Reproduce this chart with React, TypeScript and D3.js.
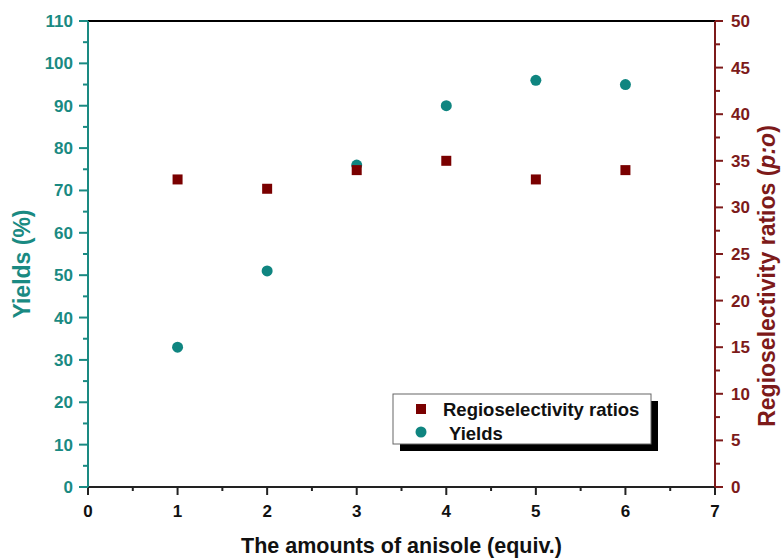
import React from "react";
import * as d3 from "d3";

const equiv = [1, 2, 3, 4, 5, 6];
const yields = [33, 51, 76, 90, 96, 95];
const ratios = [33, 32, 34, 35, 33, 34];
const xTicks = [0, 1, 2, 3, 4, 5, 6, 7];
const yLeftTicks = [0, 10, 20, 30, 40, 50, 60, 70, 80, 90, 100, 110];
const yRightTicks = [0, 5, 10, 15, 20, 25, 30, 35, 40, 45, 50];

const W = 782, H = 558;
const M = { left: 88, right: 715, top: 21, bottom: 487 };
const TEAL = "#1a8a82";
const TEAL_PT = "#0f8580";
const RED = "#7d1a1a";
const RED_PT = "#7a0000";
const FONT = "Liberation Sans, Arial, sans-serif";

export default function App() {
  const x = d3.scaleLinear().domain([0, 7]).range([M.left, M.right]);
  const yL = d3.scaleLinear().domain([0, 110]).range([M.bottom, M.top]);
  const yR = d3.scaleLinear().domain([0, 50]).range([M.bottom, M.top]);
  const xMinor = d3.range(0.5, 7, 1);
  const yLMinor = d3.range(5, 110, 10);
  const yRMinor = d3.range(2.5, 50, 5);

  return (
    <svg width={W} height={H} style={{ position: "absolute", left: 0, top: 0, fontFamily: FONT }}>
      <rect width={W} height={H} fill="#fff" />
      {/* top frame */}
      <line x1={M.left} x2={M.right} y1={M.top} y2={M.top} stroke="#000" strokeWidth={2} />
      {/* x axis */}
      <line x1={M.left} x2={M.right} y1={M.bottom} y2={M.bottom} stroke="#222" strokeWidth={2} />
      {xTicks.map((t) => (
        <g key={"xt" + t}>
          <line x1={x(t)} x2={x(t)} y1={M.bottom} y2={M.bottom + 8} stroke="#222" strokeWidth={2} />
          <text x={x(t)} y={517} textAnchor="middle" fontSize={17} fontWeight="bold" fill="#111">{t}</text>
        </g>
      ))}
      {xMinor.map((t) => (
        <line key={"xm" + t} x1={x(t)} x2={x(t)} y1={M.bottom} y2={M.bottom + 4} stroke="#222" strokeWidth={2} />
      ))}
      <text x={(M.left + M.right) / 2} y={553} textAnchor="middle" fontSize={21.5} fontWeight="bold" fill="#111">
        The amounts of anisole (equiv.)
      </text>

      {/* left axis */}
      <line x1={M.left} x2={M.left} y1={M.top} y2={M.bottom} stroke={TEAL} strokeWidth={2} />
      {yLeftTicks.map((t) => (
        <g key={"yl" + t}>
          <line x1={M.left - 9} x2={M.left} y1={yL(t)} y2={yL(t)} stroke={TEAL} strokeWidth={2} />
          <text x={73} y={yL(t) + 6} textAnchor="end" fontSize={17} fontWeight="bold" fill={TEAL}>{t}</text>
        </g>
      ))}
      {yLMinor.map((t) => (
        <line key={"ylm" + t} x1={M.left - 5} x2={M.left} y1={yL(t)} y2={yL(t)} stroke={TEAL} strokeWidth={2} />
      ))}
      <text transform={`translate(30,${(M.top + M.bottom) / 2 + 10}) rotate(-90)`} textAnchor="middle" fontSize={23} fontWeight="bold" fill={TEAL}>
        Yields (%)
      </text>

      {/* right axis */}
      <line x1={M.right} x2={M.right} y1={M.top} y2={M.bottom} stroke={RED} strokeWidth={2} />
      {yRightTicks.map((t) => (
        <g key={"yr" + t}>
          <line x1={M.right} x2={M.right + 8} y1={yR(t)} y2={yR(t)} stroke={RED} strokeWidth={2} />
          <text x={731} y={yR(t) + 6} textAnchor="start" fontSize={17} fontWeight="bold" fill={RED}>{t}</text>
        </g>
      ))}
      {yRMinor.map((t) => (
        <line key={"yrm" + t} x1={M.right} x2={M.right + 5} y1={yR(t)} y2={yR(t)} stroke={RED} strokeWidth={2} />
      ))}
      <text transform={`translate(775,276) rotate(-90)`} textAnchor="middle" fontSize={23} fontWeight="bold" fill={RED}>
        Regioselectivity ratios (<tspan fontStyle="italic">p:o</tspan>)
      </text>

      {/* data */}
      {equiv.map((e, i) => (
        <circle key={"c" + i} cx={x(e)} cy={yL(yields[i])} r={5.5} fill={TEAL_PT} />
      ))}
      {equiv.map((e, i) => (
        <rect key={"s" + i} x={x(e) - 5} y={yR(ratios[i]) - 5} width={10} height={10} fill={RED_PT} />
      ))}

      {/* legend */}
      <rect x={400} y={401} width={258} height={50} fill="#000" />
      <rect x={393} y={394} width={258} height={50} fill="#fff" stroke="#666" strokeWidth={1} />
      <rect x={416} y={404} width={10} height={10} fill={RED_PT} />
      <text x={443} y={416} fontSize={18.5} fontWeight="bold" fill="#111">Regioselectivity ratios</text>
      <circle cx={421} cy={432} r={5.5} fill={TEAL_PT} />
      <text x={449} y={440} fontSize={18.5} fontWeight="bold" fill="#111">Yields</text>
    </svg>
  );
}
